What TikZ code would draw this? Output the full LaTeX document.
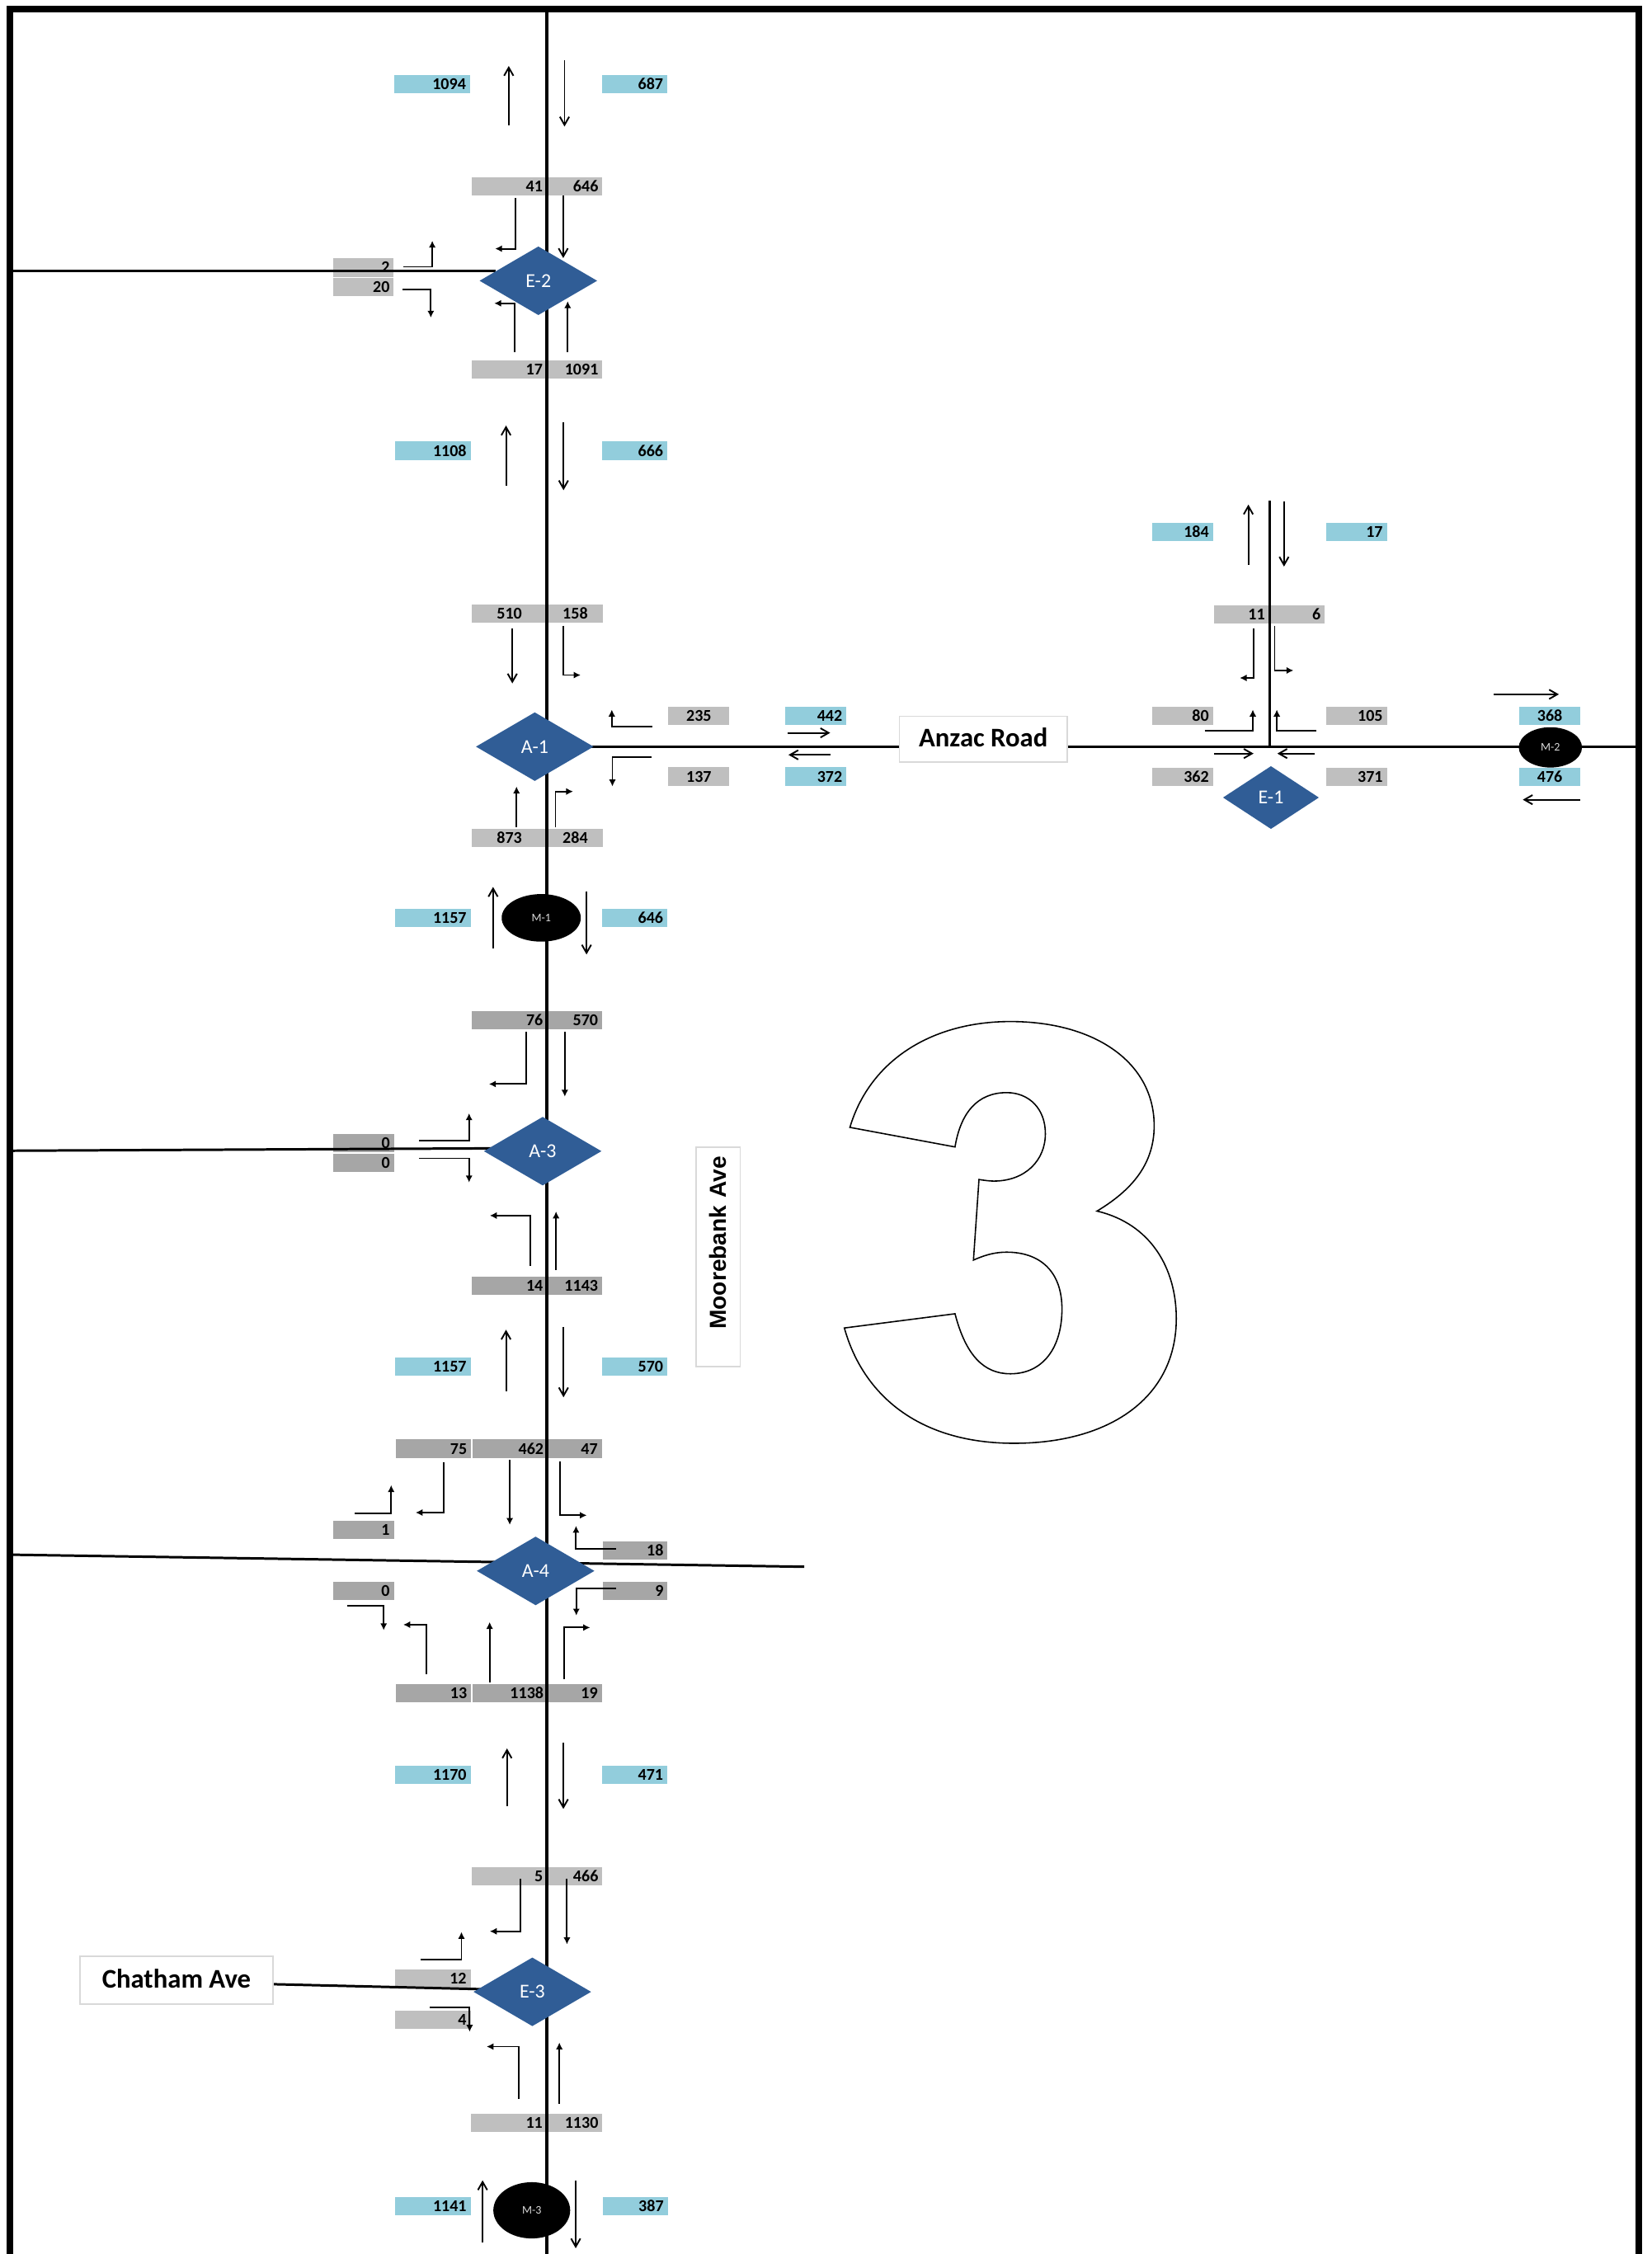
\documentclass[tikz,border=0pt]{standalone}
\usepackage{fontspec}
\setmainfont{Carlito}
\newfontfamily\moorefont{Liberation Sans}
\usetikzlibrary{shapes.geometric,arrows.meta}
\definecolor{cAqua}{RGB}{146,205,220}
\definecolor{cLite}{RGB}{191,191,191}
\definecolor{cDark}{RGB}{166,166,166}
\definecolor{cJunction}{RGB}{48,93,150}
\newcommand{\tallyfont}{\bfseries\fontsize{5.7}{6}\selectfont}
\tikzset{>=latex}

\begin{document}
\begin{tikzpicture}[x=0.017424cm,y=-0.017424cm,
    road/.style={line width=1.1pt},
    lane/.style={line width=0.85pt},
    thru/.style={line width=0.55pt,-{Straight Barb[length=2.8pt,width=3.2pt]}},
    turn/.style={line width=0.55pt,-{Latex[length=2.4pt,width=2.4pt]}},
    tally/.style={anchor=north west,inner xsep=1.4pt,inner ysep=0pt,minimum height=6.3pt,
      text height=3.7pt,text depth=0pt,align=right,font=\tallyfont,text=black},
    w52/.style={text width=23.2pt},
    w45/.style={text width=19.6pt},
    w42/.style={text width=18.2pt},
    w38/.style={text width=16pt},
    junction/.style={diamond,fill=cJunction,inner sep=0pt,minimum width=40.7pt,minimum height=23.8pt,
      text=white,font=\fontsize{6.8}{7}\selectfont},
    meter/.style={ellipse,fill=black,inner sep=0pt,text=white!85!black,font=\fontsize{4}{4}\selectfont},
    roadname/.style={rectangle,fill=white,draw=black!15,line width=0.5pt,inner sep=0pt,
      font=\bfseries\fontsize{9.3}{10}\selectfont}]
  \useasboundingbox (0,0) rectangle (1149,1568);

  \foreach \nm/\x/\y/\t in {t41/327.5/122.8/41,t17/327.5/250.2/17,t5/327.7/1298.6/5,
      t11b/327.4/1470.2/11,t12/274.5/1369.8/12,t4/274.5/1398.1/4}
    \node[tally,w52,fill=cLite] (\nm) at (\x,\y) {\t};
  \foreach \nm/\x/\y/\t in {t646/380.7/122.8/646,t1091/380.7/250.2/1091,t466/380.7/1298.6/466,
      t1130/380.7/1470.2/1130,t11a/844.4/420.5/11,t6/883.2/420.5/6}
    \node[tally,w38,fill=cLite] (\nm) at (\x,\y) {\t};
  \foreach \nm/\x/\y/\t in {t2/231.1/179.4/2,t20/231.1/192.8/20,t80/801/491.3/80,
      t105/922/491.3/105,t362/801/533.8/362,t371/922/533.8/371}
    \node[tally,w42,fill=cLite] (\nm) at (\x,\y) {\t};
  \foreach \nm/\x/\y/\t/\w in {t510/327.7/420.3/510/w52,t873/327.7/576.2/873/w52,
      t158/380.8/420.3/158/w38,t284/380.8/576.2/284/w38,t235/464.6/491.1/235/w42,t137/464.6/533.4/137/w42}
    \node[tally,\w,fill=cLite,align=center] (\nm) at (\x,\y) {\t};

  \foreach \nm/\x/\y/\t in {t76/327.7/703/76,t14/327.7/887.7/14,t75/274.8/1001/75,
      t462/328.1/1001/462,t13/274.8/1171.2/13,t1138/328.1/1171.2/1138}
    \node[tally,w52,fill=cDark] (\nm) at (\x,\y) {\t};
  \foreach \nm/\x/\y/\t in {t570/380.5/703/570,t1143/380.5/887.7/1143,t47/380.3/1001/47,t19/380.3/1171.2/19}
    \node[tally,w38,fill=cDark] (\nm) at (\x,\y) {\t};
  \foreach \nm/\x/\y/\t in {t0a/231.3/788.6/0,t0b/231.3/802.4/0,t1/231.2/1057.6/1,t0c/231.2/1100/0}
    \node[tally,w42,fill=cDark] (\nm) at (\x,\y) {\t};
  \foreach \nm/\x/\y/\t in {t18/418.8/1071.7/18,t9/418.8/1100/9}
    \node[tally,w45,fill=cDark] (\nm) at (\x,\y) {\t};

  \foreach \nm/\x/\y/\t in {b1094/274.1/51.7/1094,b1108/274.5/306.8/1108,b1157a/274.5/632/1157,
      b1157b/274.5/944/1157,b1170/274.5/1227.8/1170,b1141/274.5/1528/1141}
    \node[tally,w52,fill=cAqua] (\nm) at (\x,\y) {\t};
  \foreach \nm/\x/\y/\t in {b687/418.6/51.7/687,b666/418.6/306.8/666,b646/418.6/632/646,
      b570/418.6/944/570,b471/418.6/1227.8/471,b387/418.9/1528/387}
    \node[tally,w45,fill=cAqua] (\nm) at (\x,\y) {\t};
  \foreach \nm/\x/\y/\t in {b442/546/491.1/442,b372/546/533.4/372,b184/801/363.5/184,b17/922/363.5/17}
    \node[tally,w42,fill=cAqua] (\nm) at (\x,\y) {\t};
  \foreach \nm/\x/\y/\t in {b368/1056.5/491.3/368,b476/1056.5/533.8/476}
    \node[tally,w42,fill=cAqua,align=center] (\nm) at (\x,\y) {\t};

  \coordinate (nTop) at (380.5,6);
  \coordinate (nFoot) at (380.5,1568);
  \coordinate (e2W) at (7,188.4);
  \coordinate (e2In) at (345,188.4);
  \coordinate (anzW) at (400,519.6);
  \coordinate (anzE) at (1140,519.6);
  \coordinate (e1N) at (883.2,348.5);
  \coordinate (e1S) at (883.2,519.6);
  \coordinate (a3W) at (7,800.5);
  \coordinate (a3In) at (350,798.8);
  \coordinate (a4W) at (7,1081.5);
  \coordinate (a4E) at (559.4,1089.9);
  \coordinate (chW) at (189.7,1380.3);
  \coordinate (chIn) at (345,1384);
  \draw[road] (nTop) -- (nFoot);
  \draw[lane] (e2W) -- (e2In);
  \draw[lane] (anzW) -- (anzE);
  \draw[lane] (e1N) -- (e1S);
  \draw[lane] (a3W) -- (a3In);
  \draw[lane] (a4W) -- (a4E);
  \draw[lane] (chW) -- (chIn);

  \node[junction] (E2) at (374.5,195.3) {E-2};
  \node[junction] (A1) at (372,519.4) {A-1};
  \node[junction] (A3) at (377.5,800.8) {A-3};
  \node[junction] (A4) at (372.6,1092.8) {A-4};
  \node[junction] (E3) at (370.3,1385.6) {E-3};
  \node[junction,minimum width=33.2pt,minimum height=21.8pt] (E1) at (884.1,554.8) {E-1};
  \node[meter,minimum width=27.3pt,minimum height=16.4pt] (M1) at (376.5,638.5) {M-1};
  \node[meter,minimum width=21.8pt,minimum height=13.9pt] (M2) at (1078.5,519.9) {M-2};
  \node[meter,minimum width=26.5pt,minimum height=19.4pt] (M3) at (369.9,1537.6) {M-3};

  \node[roadname,minimum width=57.9pt,minimum height=15.7pt] (anzac) at (684,514.1) {\raisebox{1pt}{Anzac Road}};
  \node[roadname,minimum width=66.4pt,minimum height=16.5pt] (chatham) at (122.75,1377.5) {\raisebox{1pt}{Chatham Ave}};
  \node[roadname,rotate=90,minimum height=15.3pt,text width=69.7pt,inner xsep=3pt,align=right,
    font=\moorefont\bfseries\fontsize{8}{9}\selectfont] (moorebank) at (499.5,874.5) {Moorebank Ave};

  \draw[thru] (353.9,87) -- (353.9,45.9);
  \draw[thru] (392.7,42.1) -- (392.7,88);
  \draw[turn] (358.7,137.7) |- (344.4,173);
  \draw[thru] (391.8,136) -- (391.8,179.5);
  \draw[turn] (280.8,185.6) -| (300.7,167.4);
  \draw[turn] (280.2,201.5) -| (299.7,221);
  \draw[turn] (358.1,244.9) |- (343.8,211);
  \draw[turn] (394.9,245) -- (394.9,209.5);
  \draw[thru] (352,338) -- (352,296);
  \draw[thru] (392,294) -- (392,341);

  \draw[thru] (356.4,437.1) -- (356.4,475.4);
  \draw[turn] (391.8,435.2) |- (403.9,469.6);
  \draw[turn] (453.8,505.3) -| (425.6,493.6);
  \draw[turn] (453.3,526.9) -| (426,547.1);
  \draw[thru] (547.9,509.8) -- (577.5,509.8);
  \draw[thru] (577.5,525.1) -- (548.5,525.1);
  \draw[turn] (359.3,575.5) -- (359.3,547.1);
  \draw[turn] (386.4,575.5) |- (398.7,550.6);
  \draw[thru] (343,660) -- (343,617);
  \draw[thru] (408,620) -- (408,664);

  \draw[turn] (366.1,717.8) |- (340.1,754.1);
  \draw[turn] (392.9,717.8) -- (392.9,762.9);
  \draw[turn] (291.5,793.2) -| (326.3,774.4);
  \draw[turn] (291.5,805.8) -| (326.3,822.6);
  \draw[turn] (368.8,880.4) |- (340.7,845.6);
  \draw[turn] (386.8,883.4) -- (386.8,842.7);
  \draw[thru] (352,968) -- (352,925);
  \draw[thru] (392,923) -- (392,972);

  \draw[turn] (308.8,1017.4) |- (289.1,1052.2);
  \draw[turn] (354.6,1015.5) -- (354.6,1060.8);
  \draw[turn] (389.4,1016.8) |- (408.2,1054.1);
  \draw[turn] (246.9,1052.6) -| (272.1,1033.1);
  \draw[turn] (428.6,1077.6) -| (400.7,1061.4);
  \draw[turn] (428.6,1104.8) -| (400.9,1123.9);
  \draw[turn] (241.4,1117.2) -| (266.9,1134.1);
  \draw[turn] (296.8,1164.7) |- (280.5,1130.2);
  \draw[turn] (340.6,1170.4) -- (340.6,1128.3);
  \draw[turn] (392.3,1168) |- (410.5,1132.2);
  \draw[thru] (352.7,1256.5) -- (352.7,1216.3);
  \draw[thru] (391.9,1212.5) -- (391.9,1258.4);

  \draw[turn] (362,1307) |- (340.7,1343.5);
  \draw[turn] (394.4,1306.7) -- (394.4,1352.6);
  \draw[turn] (292.5,1363.4) -| (321,1343.9);
  \draw[turn] (299,1396.5) -| (326.7,1413.4);
  \draw[turn] (360.8,1460.2) |- (338.5,1423.7);
  \draw[turn] (389.1,1463.5) -- (389.1,1420.8);
  \draw[thru] (335.7,1560.1) -- (335.7,1516.7);
  \draw[thru] (400.5,1516.7) -- (400.5,1564);

  \draw[thru] (868.4,393.1) -- (868.4,351);
  \draw[thru] (893.2,348.6) -- (893.2,394.1);
  \draw[turn] (872,437.1) |- (862.4,471.6);
  \draw[turn] (886.7,435.2) |- (899.8,466.4);
  \draw[turn] (838,508.5) -| (871.5,493.6);
  \draw[turn] (915.7,508.5) -| (888.2,493.6);
  \draw[thru] (844.4,524.2) -- (872,524.2);
  \draw[thru] (914.8,524.2) -- (888.6,524.2);
  \draw[thru] (1039.1,483) -- (1084.4,483);
  \draw[thru] (1099.1,556.3) -- (1059.3,556.3);

  \begin{scope}[shift={(8cm,-12cm)},x=0.004464cm,y=-0.003832cm]
    \draw[line width=0.45pt] (515,435) .. controls (570,220) and (740,100) .. (950,100)
      .. controls (1180,100) and (1340,230) .. (1340,430)
      .. controls (1340,560) and (1270,640) .. (1185,700)
      .. controls (1330,740) and (1400,880) .. (1400,1040)
      .. controls (1400,1290) and (1220,1435) .. (960,1435)
      .. controls (700,1435) and (550,1280) .. (500,1070)
      -- (800,1025)
      .. controls (830,1160) and (880,1215) .. (950,1215)
      .. controls (1040,1215) and (1090,1130) .. (1090,1010)
      .. controls (1090,890) and (1030,830) .. (940,830)
      .. controls (900,830) and (870,845) .. (850,855)
      -- (865,600)
      .. controls (880,603) and (895,605) .. (905,605)
      .. controls (990,605) and (1045,540) .. (1045,455)
      .. controls (1045,375) and (1000,325) .. (940,325)
      .. controls (860,325) and (815,390) .. (800,497)
      -- cycle;
  \end{scope}

  \draw[line width=2.28pt] (7,1568) -- (7,6.3) -- (1139.9,6.3) -- (1139.9,1568);
\end{tikzpicture}
\end{document}
